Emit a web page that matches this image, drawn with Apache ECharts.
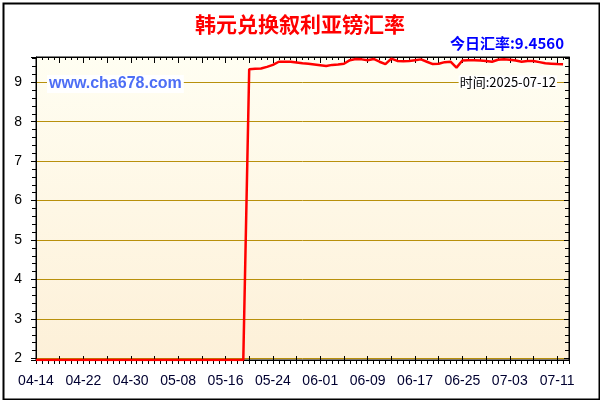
<!DOCTYPE html>
<html lang="zh">
<head>
  <meta charset="UTF-8">
  <title>韩元兑换叙利亚镑汇率</title>
  <script src="https://cdn.jsdelivr.net/npm/echarts@6/dist/echarts.min.js"></script>
  <style>
    html, body { margin: 0; padding: 0; background: #fff; }
    #main { width: 600px; height: 400px; }
  </style>
</head>
<body>
<div id="main"></div>
<script type="text/javascript">
  // 日期 (最后一天只占位, 没有数据)
  var dates = [
    '04-14','04-15','04-16','04-17','04-18','04-19','04-20','04-21','04-22','04-23','04-24','04-25','04-26','04-27','04-28','04-29','04-30',
    '05-01','05-02','05-03','05-04','05-05','05-06','05-07','05-08','05-09','05-10','05-11','05-12','05-13','05-14','05-15','05-16',
    '05-17','05-18','05-19','05-20','05-21','05-22','05-23','05-24','05-25','05-26','05-27','05-28','05-29','05-30','05-31',
    '06-01','06-02','06-03','06-04','06-05','06-06','06-07','06-08','06-09','06-10','06-11','06-12','06-13','06-14','06-15','06-16',
    '06-17','06-18','06-19','06-20','06-21','06-22','06-23','06-24','06-25','06-26','06-27','06-28','06-29','06-30',
    '07-01','07-02','07-03','07-04','07-05','07-06','07-07','07-08','07-09','07-10','07-11','07-12','07-13'
  ];
  // 汇率
  var rates = [
    1.96,1.96,1.96,1.96,1.96,1.96,1.96,1.96,1.96,1.96,1.96,1.96,1.96,1.96,1.96,1.96,1.96,1.96,
    1.96,1.96,1.96,1.96,1.96,1.96,1.96,1.96,1.96,1.96,1.96,1.96,1.96,1.96,1.96,1.96,1.96,1.96,
    9.33,9.34,9.35,9.39,9.44,9.52,9.52,9.52,9.50,9.48,9.47,9.45,9.43,9.41,9.44,9.45,9.47,9.56,
    9.59,9.58,9.56,9.59,9.52,9.46,9.60,9.54,9.53,9.54,9.56,9.58,9.52,9.46,9.47,9.51,9.52,9.37,
    9.55,9.56,9.56,9.55,9.54,9.52,9.57,9.58,9.57,9.55,9.52,9.54,9.54,9.51,9.48,9.47,9.46,9.456
  ];
  var yMin = 1.96, yMax = 9.64;
  var title = '韩元兑换叙利亚镑汇率';
  var todayText = '今日汇率:9.4560';
  var dateText = '时间:2025-07-12';
  var siteText = 'www.cha678.com';

  var myChart = echarts.init(document.getElementById('main'));
  var gold = '#b8900c';

  var option = {
    animation: false,
    backgroundColor: '#fff',
    grid: {
      left: 36, right: 31, top: 57, bottom: 40,
      show: true,
      borderColor: '#000',
      borderWidth: 1,
      backgroundColor: {
        type: 'linear', x: 0, y: 0, x2: 0, y2: 1,
        colorStops: [{ offset: 0, color: '#fffef2' }, { offset: 1, color: '#fdf0d8' }]
      }
    },
    xAxis: [
      {
        type: 'category', data: dates, boundaryGap: false, position: 'bottom',
        axisLine: { lineStyle: { color: '#000', width: 1 } },
        axisTick: { show: true, interval: 0, length: 4, lineStyle: { color: '#000' } },
        axisLabel: { interval: 7, margin: 14, color: '#000030', fontSize: 14, fontFamily: 'Liberation Sans, Arial' },
        splitLine: { show: false }
      },
      {
        type: 'category', data: dates, boundaryGap: false, position: 'bottom',
        axisLine: { show: false },
        axisTick: { show: true, interval: 3, inside: true, length: 4, lineStyle: { color: '#000' } },
        axisLabel: { show: false }
      },
      {
        type: 'category', data: dates, boundaryGap: false, position: 'top',
        axisLine: { lineStyle: { color: '#000', width: 1 } },
        axisTick: { show: true, interval: 0, inside: true, length: 3, lineStyle: { color: '#000' } },
        axisLabel: { show: false }
      },
      {
        type: 'category', data: dates, boundaryGap: false, position: 'top',
        axisLine: { show: false },
        axisTick: { show: true, interval: 3, inside: true, length: 6, lineStyle: { color: '#000' } },
        axisLabel: { show: false }
      }
    ],
    yAxis: [
      {
        type: 'value', min: yMin, max: yMax, splitNumber: 8, position: 'left',
        axisLine: { show: true, lineStyle: { color: '#000' } },
        axisTick: { show: true, length: 5, lineStyle: { color: '#000' } },
        minorTick: { show: true, splitNumber: 5, length: 4, lineStyle: { color: '#000' } },
        axisLabel: { margin: 14, color: '#000', fontSize: 14, fontFamily: 'Liberation Sans, Arial', showMinLabel: false, showMaxLabel: false },
        splitLine: { show: true, lineStyle: { color: gold, width: 1 } }
      },
      {
        type: 'value', min: yMin, max: yMax, splitNumber: 8, position: 'right',
        axisLine: { show: true, lineStyle: { color: '#000' } },
        axisTick: { show: true, inside: true, length: 5, lineStyle: { color: '#000' } },
        minorTick: { show: true, splitNumber: 5, length: 4, lineStyle: { color: '#000' } },
        axisLabel: { show: false },
        splitLine: { show: false }
      }
    ],
    graphic: [
      { type: 'rect', left: 1, top: 1, shape: { width: 596, height: 396 }, style: { fill: 'none', stroke: '#000', lineWidth: 2 }, z: 100 },
      { type: 'text', x: 300, y: 24, style: { text: title, fill: '#ff0000', font: 'bold 21px "Noto Sans CJK SC"', textAlign: 'center', textVerticalAlign: 'middle' } },
      { type: 'text', x: 564, y: 43, style: { text: todayText, fill: '#0000ff', font: 'bold 15px "Noto Sans CJK SC"', textAlign: 'right', textVerticalAlign: 'middle' } },
      { type: 'text', x: 47, y: 84, z: 50, style: { text: siteText, fill: '#4d6ef5', font: 'bold 16px "Liberation Sans", Arial', textAlign: 'left', textVerticalAlign: 'middle', backgroundColor: '#fff', padding: [1, 2, 1, 2] } },
      { type: 'text', x: 557, y: 82, z: 50, style: { text: dateText, fill: '#000', font: '13px "Noto Sans CJK SC"', textAlign: 'right', textVerticalAlign: 'middle', backgroundColor: '#fff', padding: [0, 1, 0, 1] } }
    ],
    series: [
      {
        name: '汇率', type: 'line', data: rates, xAxisIndex: 0, yAxisIndex: 0,
        showSymbol: false, symbol: 'none', smooth: false,
        lineStyle: { color: '#ff0000', width: 2.5 },
        z: 10
      }
    ]
  };
  myChart.setOption(option);
</script>
</body>
</html>
